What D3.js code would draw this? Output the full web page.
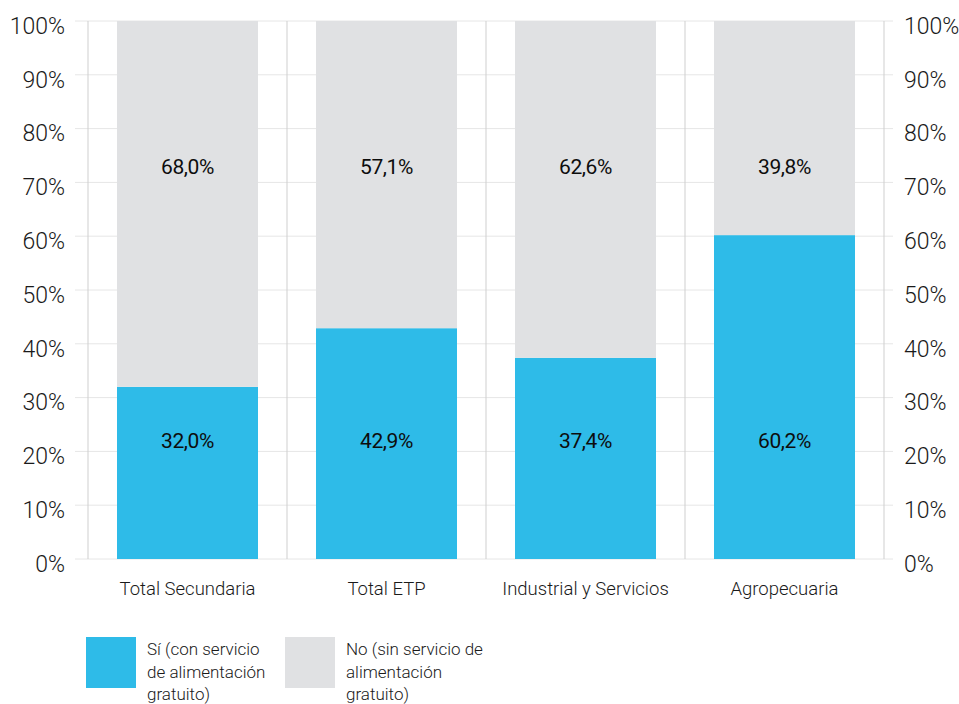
<!DOCTYPE html>
<html>
<head>
<meta charset="utf-8">
<script src="https://cdn.jsdelivr.net/npm/d3@7"></script>
<style>
  html, body { margin: 0; padding: 0; background: #fff; }
  svg { display: block; font-family: Roboto, "Noto Sans", sans-serif; }
</style>
</head>
<body>
<svg id="chart" width="959" height="704"></svg>
<script>
// Share of schools offering free meals, by type of secondary education
const categories = ["Total Secundaria", "Total ETP", "Industrial y Servicios", "Agropecuaria"];
const siValues = [32.0, 42.9, 37.4, 60.2];
const noValues = [68.0, 57.1, 62.6, 39.8];
const yTicks = [0, 10, 20, 30, 40, 50, 60, 70, 80, 90, 100];
const seriesNames = ["Sí (con servicio de alimentación gratuito)", "No (sin servicio de alimentación gratuito)"];
const legendLines = [
  ["Sí (con servicio", "de alimentación", "gratuito)"],
  ["No (sin servicio de", "alimentación", "gratuito)"]
];
const colors = ["#2ebbe8", "#e0e1e3"];

const svg = d3.select("#chart");
const plot = { left: 88, right: 884, top: 21, bottom: 559 };

const x = d3.scaleBand().domain(categories).range([plot.left, plot.right]).paddingInner(0).paddingOuter(0);
const y = d3.scaleLinear().domain([0, 100]).range([plot.bottom, plot.top]);
const fmt = v => v.toFixed(1).replace(".", ",") + "%";

// horizontal gridlines
svg.append("g").selectAll("line").data(yTicks).join("line")
  .attr("x1", 75).attr("x2", 893)
  .attr("y1", d => y(d)).attr("y2", d => y(d))
  .attr("stroke", "#e6e6e6").attr("stroke-width", 1);

// category separators
const seps = categories.map(c => x(c)).concat([plot.right]);
svg.append("g").selectAll("line").data(seps).join("line")
  .attr("x1", d => d).attr("x2", d => d)
  .attr("y1", plot.top).attr("y2", plot.bottom)
  .attr("stroke", "#cfcfcf").attr("stroke-width", 1);

// stacked bars
const stackData = categories.map((c, i) => ({ cat: c, si: siValues[i], no: noValues[i] }));
const stacked = d3.stack().keys(["si", "no"])(stackData);
const barPad = 29;
const barW = x.bandwidth() - 2 * barPad;

stacked.forEach((layer, li) => {
  svg.append("g").selectAll("rect").data(layer).join("rect")
    .attr("x", d => x(d.data.cat) + barPad)
    .attr("width", barW)
    .attr("y", d => y(d[1]))
    .attr("height", d => y(d[0]) - y(d[1]))
    .attr("fill", colors[li]);
});

// value labels
const labelLevels = [22, 73];
[siValues, noValues].forEach((vals, si) => {
  svg.append("g").selectAll("text").data(vals).join("text")
    .attr("x", (d, i) => x(categories[i]) + x.bandwidth() / 2)
    .attr("y", y(labelLevels[si]))
    .attr("dy", "0.35em")
    .attr("text-anchor", "middle")
    .attr("font-size", 21)
    .attr("font-weight", 400)
    .attr("letter-spacing", -0.4)
    .attr("fill", "#0d0d0d")
    .text(d => fmt(d));
});

// y axes (left and right)
const axisLeft = d3.axisLeft(y).tickValues(yTicks).tickFormat(d => d + "%").tickSize(0).tickPadding(0);
const axisRight = d3.axisRight(y).tickValues(yTicks).tickFormat(d => d + "%").tickSize(0).tickPadding(0);
const gl = svg.append("g").attr("transform", "translate(65,5)").call(axisLeft);
const gr = svg.append("g").attr("transform", "translate(904,5)").call(axisRight);
[gl, gr].forEach(g => {
  g.select(".domain").remove();
  g.selectAll("text").attr("font-size", 23).attr("font-weight", 300).attr("fill", "#1a1a1a")
    .attr("font-family", "Roboto, sans-serif");
});

// category axis labels
svg.append("g").selectAll("text").data(categories).join("text")
  .attr("x", d => x(d) + x.bandwidth() / 2)
  .attr("y", 595)
  .attr("text-anchor", "middle")
  .attr("font-size", 18.5)
  .attr("font-weight", 300)
  .attr("fill", "#1a1a1a")
  .text(d => d);

// legend
const legendX = [86, 285];
const lg = svg.append("g").selectAll("g").data(seriesNames).join("g")
  .attr("transform", (d, i) => `translate(${legendX[i]},637)`);
lg.append("rect").attr("width", 50).attr("height", 51).attr("fill", (d, i) => colors[i]);
lg.append("text")
  .attr("x", 61).attr("y", 18)
  .attr("font-size", 17).attr("font-weight", 300).attr("fill", "#1a1a1a")
  .selectAll("tspan").data((d, i) => legendLines[i]).join("tspan")
  .attr("x", 61).attr("dy", (d, j) => j === 0 ? 0 : 22.5)
  .text(d => d);
</script>
</body>
</html>
